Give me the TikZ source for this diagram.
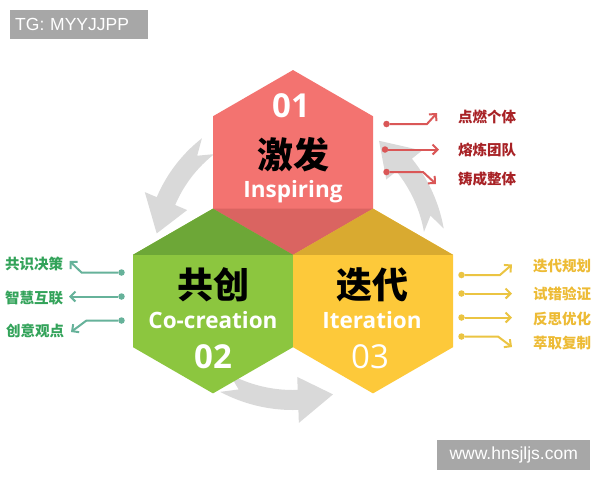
\documentclass[tikz,border=0pt]{standalone}
\usepackage{fontspec}
\newfontfamily\cjk{Noto Sans CJK SC}
\newfontfamily\lat{Open Sans}
\newfontfamily\wmfont{Liberation Sans}
\usetikzlibrary{arrows.meta}
\definecolor{hexred}{HTML}{F37370}
\definecolor{hexreddk}{HTML}{DA6461}
\definecolor{hexgreen}{HTML}{8CC63F}
\definecolor{hexgreendk}{HTML}{6DA737}
\definecolor{hexyellow}{HTML}{FDC93A}
\definecolor{hexyellowdk}{HTML}{D9AA30}
\definecolor{arrowgrey}{HTML}{D9D9D9}
\definecolor{txtred}{HTML}{A82226}
\definecolor{lnred}{HTML}{DA5757}
\definecolor{txtgreen}{HTML}{33A35A}
\definecolor{lngreen}{HTML}{66B29A}
\definecolor{txtyellow}{HTML}{EDBB35}
\definecolor{lnyellow}{HTML}{EBC442}
\definecolor{wmgrey}{HTML}{A7A7A7}
\newcommand\hexat[2]{(#1,#2-92.38) -- (#1+80,#2-46.19) -- (#1+80,#2+46.19) -- (#1,#2+92.38) -- (#1-80,#2+46.19) -- (#1-80,#2-46.19) -- cycle}
\newcommand\grarrow[4]{\fill[arrowgrey] plot[domain=#1:#2,samples=30] ({293+(#4+10)*cos(\x)},{255+(#4+10)*sin(\x)}) -- ({293+(#4+23)*cos(#2)},{255+(#4+23)*sin(#2)}) -- ({293+#4*cos(#3)},{255+#4*sin(#3)}) -- ({293+(#4-23)*cos(#2)},{255+(#4-23)*sin(#2)}) -- plot[domain=#2:#1,samples=30] ({293+(#4-10)*cos(\x)},{255+(#4-10)*sin(\x)}) -- ({293+#4*cos(#1-6)},{255+#4*sin(#1-6)}) -- cycle;}
\begin{document}
\begin{tikzpicture}[x=1pt,y=-1pt,
  side/.style={font=\cjk\bfseries\fontsize{14.5}{16}\selectfont, anchor=base west, inner sep=0pt},
  hexnum/.style={font=\lat\bfseries\fontsize{33}{36}\selectfont, text=white, anchor=base, inner sep=0pt},
  hexcn/.style={font=\cjk\bfseries\fontsize{36}{40}\selectfont, text=black, anchor=base, inner sep=0pt},
  hexen/.style={font=\lat\bfseries\fontsize{22.5}{26}\selectfont, text=white, anchor=base, inner sep=0pt},
  dotr/.style={circle, fill=lnred, inner sep=0pt, minimum size=6.5pt},
  dotg/.style={circle, fill=lngreen, inner sep=0pt, minimum size=6.5pt},
  doty/.style={circle, fill=lnyellow, inner sep=0pt, minimum size=6.5pt},
  tipst/.style={-{Straight Barb[length=5pt,width=10pt]}},
  lr/.style={draw=lnred, line width=2pt, tipst},
  lg/.style={draw=lngreen, line width=2pt, tipst},
  ly/.style={draw=lnyellow, line width=2pt, tipst},
  wm/.style={fill=wmgrey, text=white, font=\wmfont\fontsize{17.5}{20}\selectfont, inner xsep=5pt, inner ysep=0pt}
]
\useasboundingbox (0,0) rectangle (600,480);
\fill[white] (0,0) rectangle (600,480);

% grey cycle arrows
\grarrow{232}{203}{189}{138}
\grarrow{350}{321}{307}{143}
\grarrow{118}{88}{74}{145}

% hexagons
\fill[hexgreen] \hexat{213}{301};
\fill[hexyellow] \hexat{373}{301};
\fill[hexred] \hexat{293}{162.44};
\fill[hexreddk] (213,208.63) -- (373,208.63) -- (293,254.81) -- cycle;
\fill[hexgreendk] (133,254.81) -- (213,208.63) -- (293,254.81) -- cycle;
\fill[hexyellowdk] (293,254.81) -- (373,208.63) -- (453,254.81) -- cycle;

% hexagon texts
\node[hexnum] (n01) at (291,117) {01};
\node[hexcn] (cn1) at (293,168) {激发};
\node[hexen] (en1) at (293,197) {Inspiring};
\node[hexcn] (cn2) at (213,298) {共创};
\node[hexen] (en2) at (213,328) {Co-creation};
\node[hexnum] (n02) at (213,368) {02};
\node[hexcn] (cn3) at (372,298) {迭代};
\node[hexen] (en3) at (372,328) {Iteration};
\node[hexnum, font=\lat\fontsize{33}{36}\selectfont] (n03) at (370,368) {03};

% red connectors
\node[dotr] (r1) at (386.5,124) {};
\coordinate (r1e) at (437,113);
\draw[lr] (r1) -- (427,124) -- (r1e);
\node[dotr] (r2) at (385,149.5) {};
\coordinate (r2e) at (439,149.5);
\draw[lr] (r2) -- (r2e);
\node[dotr] (r3) at (386.5,172) {};
\coordinate (r3e) at (436,184);
\draw[lr] (r3) -- (423,172) -- (r3e);
\node[side, text=txtred] (rt1) at (458,122) {点燃个体};
\node[side, text=txtred] (rt2) at (458,155) {熔炼团队};
\node[side, text=txtred] (rt3) at (458,184) {铸成整体};

% green connectors
\node[dotg] (g1) at (121.5,272.5) {};
\coordinate (g1e) at (69.5,261);
\draw[lg] (g1) -- (81.5,272.5) -- (g1e);
\node[dotg] (g2) at (121.5,296.5) {};
\coordinate (g2e) at (69,296.5);
\draw[lg] (g2) -- (g2e);
\node[dotg] (g3) at (121.5,320.5) {};
\coordinate (g3e) at (71,332);
\draw[lg] (g3) -- (86.5,320.5) -- (g3e);
\node[side, text=txtgreen] (gt1) at (5,269) {共识决策};
\node[side, text=txtgreen] (gt2) at (5,303) {智慧互联};
\node[side, text=txtgreen] (gt3) at (6,336) {创意观点};

% yellow connectors
\node[doty] (y1) at (461.5,275) {};
\coordinate (y1e) at (512,264.5);
\draw[ly] (y1) -- (500,275) -- (y1e);
\node[doty] (y2) at (461.5,293.5) {};
\coordinate (y2e) at (512,293.5);
\draw[ly] (y2) -- (y2e);
\node[doty] (y3) at (461.5,317.5) {};
\coordinate (y3e) at (512,317.5);
\draw[ly] (y3) -- (y3e);
\node[doty] (y4) at (461.5,336.5) {};
\coordinate (y4e) at (512,347);
\draw[ly] (y4) -- (498,336.5) -- (y4e);
\node[side, text=txtyellow] (yt1) at (533,271) {迭代规划};
\node[side, text=txtyellow] (yt2) at (533,299) {试错验证};
\node[side, text=txtyellow] (yt3) at (533,324) {反思优化};
\node[side, text=txtyellow] (yt4) at (533,348) {萃取复制};

% watermarks
\node[wm, anchor=north west, text width=128pt, align=left, minimum height=29pt] (tg) at (10,10) {TG: MYYJJPP};
\node[wm, anchor=north west, minimum width=153pt, minimum height=30pt] (www) at (437,440) {www.hnsjljs.com};
\end{tikzpicture}
\end{document}
